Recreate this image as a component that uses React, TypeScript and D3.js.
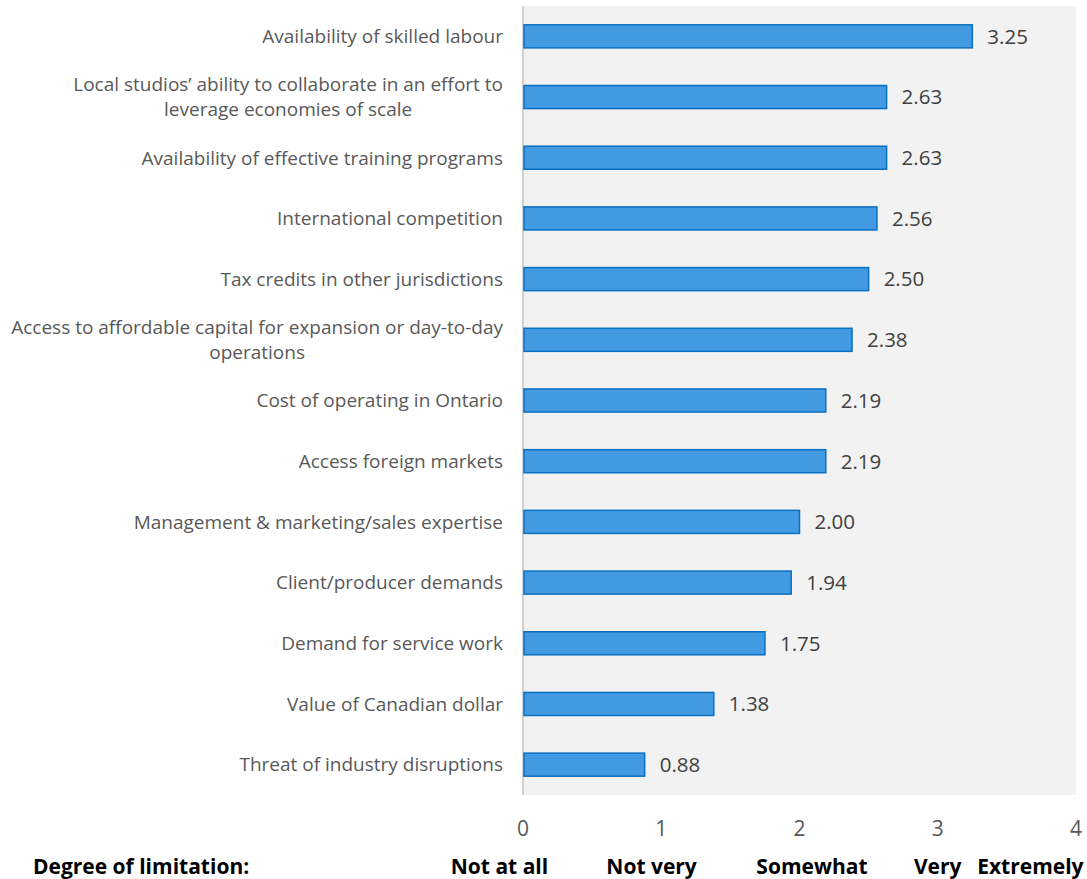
import React, { useEffect, useRef } from "react";
import * as d3 from "d3";

const categories: string[][] = [
  ["Availability of skilled labour"],
  ["Local studios\u2019 ability to collaborate in an effort to", "leverage economies of scale"],
  ["Availability of effective training programs"],
  ["International competition"],
  ["Tax credits in other jurisdictions"],
  ["Access to affordable capital for expansion or day-to-day", "operations"],
  ["Cost of operating in Ontario"],
  ["Access foreign markets"],
  ["Management & marketing/sales expertise"],
  ["Client/producer demands"],
  ["Demand for service work"],
  ["Value of Canadian dollar"],
  ["Threat of industry disruptions"],
];
const values: number[] = [3.25, 2.63, 2.63, 2.56, 2.5, 2.38, 2.19, 2.19, 2.0, 1.94, 1.75, 1.38, 0.88];
const ticks: number[] = [0, 1, 2, 3, 4];
const degreeTitle = "Degree of limitation:";
const degreeLabels: string[] = ["Not at all", "Not very", "Somewhat", "Very", "Extremely"];
const degreeCenters: number[] = [-0.17, 0.93, 2.09, 3.0, 3.67];

const W = 1087, H = 879;
const FONT = "'Open Sans', 'Noto Sans', sans-serif";

export default function App() {
  const ref = useRef<SVGSVGElement>(null);
  useEffect(() => {
    const svg = d3.select(ref.current);
    svg.selectAll("*").remove();
    const x = d3.scaleLinear().domain([0, 4]).range([523, 1076]);
    const y = d3.scaleBand<number>().domain(d3.range(values.length)).range([6, 795]).paddingInner(0.62).paddingOuter(0.31);

    svg.append("rect").attr("x", 522).attr("y", 6).attr("width", 1076 - 522).attr("height", 795 - 6).attr("fill", "#f2f2f2");
    svg.append("line").attr("x1", 523).attr("x2", 523).attr("y1", 6).attr("y2", 795).attr("stroke", "#d0d0d0").attr("stroke-width", 2);

    const g = svg.append("g");
    g.selectAll("rect.bar").data(values).enter().append("rect")
      .attr("class", "bar")
      .attr("x", x(0) + 1)
      .attr("y", (_d, i) => y(i)!)
      .attr("width", (d) => x(d) - x(0) - 1)
      .attr("height", y.bandwidth())
      .attr("fill", "#419ae2")
      .attr("stroke", "#0b6fc0")
      .attr("stroke-width", 1.5);

    g.selectAll("text.val").data(values).enter().append("text")
      .attr("x", (d) => x(d) + 15)
      .attr("y", (_d, i) => y(i)! + y.bandwidth() / 2)
      .attr("dy", "0.36em")
      .attr("font-family", FONT).attr("font-size", 20.5).attr("fill", "#404040")
      .text((d) => d.toFixed(2));

    const labelRight = 503;
    const LFS = 19;
    categories.forEach((lines, i) => {
      const cy = y(i)! + y.bandwidth() / 2;
      const lh = 25;
      if (lines.length === 1) {
        svg.append("text").attr("x", labelRight).attr("y", cy).attr("dy", "0.36em")
          .attr("text-anchor", "end").attr("font-family", FONT).attr("font-size", LFS).attr("fill", "#595959")
          .text(lines[0]);
      } else {
        const t = svg.append("text").attr("font-family", FONT).attr("font-size", LFS).attr("fill", "#595959").attr("text-anchor", "middle");
        const tmp = svg.append("text").attr("font-family", FONT).attr("font-size", LFS).text(lines[0]);
        const w = (tmp.node() as SVGTextElement).getComputedTextLength();
        tmp.remove();
        const cx = labelRight - w / 2;
        lines.forEach((ln, k) => {
          t.append("tspan").attr("x", cx).attr("y", cy + (k - (lines.length - 1) / 2) * lh).attr("dy", "0.36em").text(ln);
        });
      }
    });

    svg.selectAll("text.tick").data(ticks).enter().append("text")
      .attr("x", (d) => x(d)).attr("y", 828).attr("dy", "0.36em").attr("text-anchor", "middle")
      .attr("font-family", FONT).attr("font-size", 21).attr("fill", "#595959")
      .text((d) => String(d));

    svg.append("text").attr("x", 33).attr("y", 874).attr("font-family", FONT).attr("font-weight", "bold")
      .attr("font-size", 21).attr("fill", "#000").text(degreeTitle);
    svg.selectAll("text.deg").data(degreeLabels).enter().append("text")
      .attr("x", (_d, i) => x(degreeCenters[i])).attr("y", 874).attr("text-anchor", "middle")
      .attr("font-family", FONT).attr("font-weight", "bold").attr("font-size", 21).attr("fill", "#000")
      .text((d) => d);
  }, []);
  return <svg ref={ref} width={W} height={H} style={{ position: "absolute", left: 0, top: 0 }} />;
}
